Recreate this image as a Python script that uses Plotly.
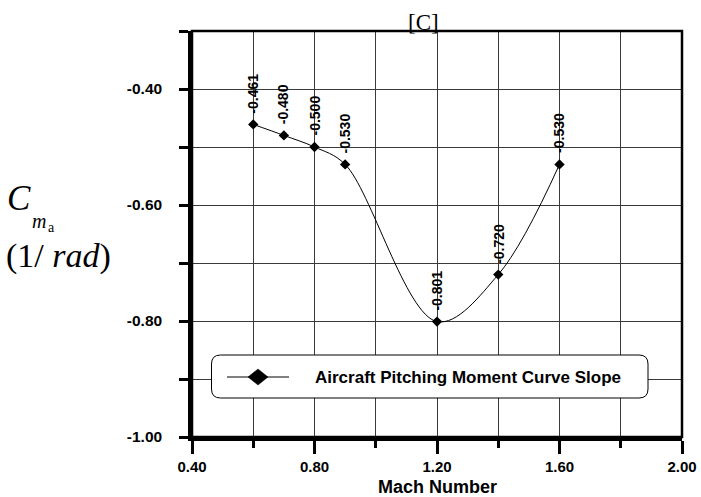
import plotly.graph_objects as go

# Pitching moment curve slope vs Mach number
mach = [0.6, 0.7, 0.8, 0.9, 1.2, 1.4, 1.6]
cm_alpha = [-0.461, -0.480, -0.500, -0.530, -0.801, -0.720, -0.530]

x_major = [0.4, 0.8, 1.2, 1.6, 2.0]
x_major_text = ["0.40", "0.80", "1.20", "1.60", "2.00"]
x_minor = [0.6, 1.0, 1.4, 1.8]
y_ticks = [-1.0, -0.9, -0.8, -0.7, -0.6, -0.5, -0.4, -0.3]
y_ticktext = ["-1.00", "", "-0.80", "", "-0.60", "", "-0.40", ""]

series_name = "Aircraft Pitching Moment Curve Slope"

W, H = 701, 497
ML, MR, MT, MB = 192, 19, 31, 60
PW, PH = W - ML - MR, H - MT - MB


def px(xp):
    return (xp - ML) / PW


def py(yp):
    return (H - MB - yp) / PH


SANS = "Liberation Sans"
SERIF = "Liberation Serif"
GRID = "#3a3a3a"

fig = go.Figure()

fig.add_trace(go.Scatter(
    x=mach, y=cm_alpha,
    name=series_name,
    mode="lines+markers",
    line=dict(color="black", width=1, shape="spline", smoothing=1.0),
    marker=dict(symbol="diamond", size=8, color="black"),
    showlegend=False,
))

annotations = []
for xv, yv in zip(mach, cm_alpha):
    annotations.append(dict(
        x=xv, y=yv, xref="x", yref="y",
        text=f"{yv:.3f}", textangle=-90,
        showarrow=False, xanchor="center", yanchor="bottom", yshift=9,
        font=dict(family=SANS, size=14, color="black", weight="bold"),
    ))

annotations += [
    dict(x=px(423), y=1.0, xref="paper", yref="paper", text="[C]",
         showarrow=False, xanchor="center", yanchor="bottom", yshift=-6,
         font=dict(family=SERIF, size=23, color="black")),
    dict(x=px(5), y=py(198), xref="paper", yref="paper", text="<i>C</i>",
         showarrow=False, xanchor="left", yanchor="middle",
         font=dict(family=SERIF, size=35, color="black")),
    dict(x=px(30), y=py(221), xref="paper", yref="paper", text="<i>m</i>",
         showarrow=False, xanchor="left", yanchor="middle",
         font=dict(family=SERIF, size=20, color="black")),
    dict(x=px(46), y=py(227), xref="paper", yref="paper", text="a",
         showarrow=False, xanchor="left", yanchor="middle",
         font=dict(family=SERIF, size=14, color="black")),
    dict(x=px(4), y=py(256), xref="paper", yref="paper",
         text="(1/ <i>rad</i>)",
         showarrow=False, xanchor="left", yanchor="middle",
         font=dict(family=SERIF, size=34, color="black")),
    # legend label
    dict(x=px(313), y=py(377), xref="paper", yref="paper", text=series_name,
         showarrow=False, xanchor="left", yanchor="middle",
         font=dict(family=SANS, size=17, color="black", weight="bold")),
    # x-axis title
    dict(x=0.5, y=py(487), xref="paper", yref="paper", text="Mach Number",
         showarrow=False, xanchor="center", yanchor="middle",
         font=dict(family=SANS, size=18, color="black", weight="bold")),
]

# rounded legend frame
x0, x1 = px(211.5), px(648)
y0, y1 = py(398), py(355)
rx, ry = 9 / PW, 9 / PH
frame = (
    f"M {x0+rx},{y1} L {x1-rx},{y1} Q {x1},{y1} {x1},{y1-ry} "
    f"L {x1},{y0+ry} Q {x1},{y0} {x1-rx},{y0} "
    f"L {x0+rx},{y0} Q {x0},{y0} {x0},{y0+ry} "
    f"L {x0},{y1-ry} Q {x0},{y1} {x0+rx},{y1} Z"
)

# legend symbol: line with a large diamond
cx, cy = px(258), py(377)
dx, dy = 10 / PW, 8 / PH
diamond = f"M {cx-dx},{cy} L {cx},{cy+dy} L {cx+dx},{cy} L {cx},{cy-dy} Z"

shapes = [
    dict(type="path", path=frame, xref="paper", yref="paper",
         fillcolor="white", line=dict(color="black", width=1), layer="above"),
    dict(type="line", x0=px(227), x1=px(289), y0=cy, y1=cy,
         xref="paper", yref="paper", line=dict(color="black", width=1),
         layer="above"),
    dict(type="path", path=diamond, xref="paper", yref="paper",
         fillcolor="black", line=dict(color="black", width=0.5), layer="above"),
    dict(type="rect", x0=0, x1=1, y0=0, y1=1, xref="paper", yref="paper",
         line=dict(color="black", width=2.5), layer="above"),
]

fig.update_layout(
    width=W, height=H,
    margin=dict(l=ML, r=MR, t=MT, b=MB, autoexpand=False),
    paper_bgcolor="white", plot_bgcolor="white",
    showlegend=False,
    xaxis=dict(
        range=[0.4, 2.0], tickvals=x_major, ticktext=x_major_text,
        automargin=False,
        showgrid=True, gridcolor=GRID, gridwidth=1,
        showline=True, linecolor="black", linewidth=3.5,
        ticks="outside", ticklen=13, tickwidth=3, tickcolor="black",
        minor=dict(tickvals=x_minor, ticks="outside", ticklen=7,
                   tickwidth=2.5, tickcolor="black",
                   showgrid=True, gridcolor=GRID, gridwidth=1),
        zeroline=False,
        tickfont=dict(family=SANS, size=15, color="black", weight="bold"),
        ticklabelstandoff=0,
    ),
    yaxis=dict(
        range=[-1.0, -0.3], tickvals=y_ticks, ticktext=y_ticktext,
        automargin=False,
        showgrid=True, gridcolor=GRID, gridwidth=1,
        showline=True, linecolor="black", linewidth=3.5,
        ticks="outside", ticklen=9, tickwidth=3, tickcolor="black",
        zeroline=False,
        tickfont=dict(family=SANS, size=15.5, color="black", weight="bold"),
        ticklabelstandoff=14,
    ),
    annotations=annotations,
    shapes=shapes,
)

fig.write_html("out.html")
